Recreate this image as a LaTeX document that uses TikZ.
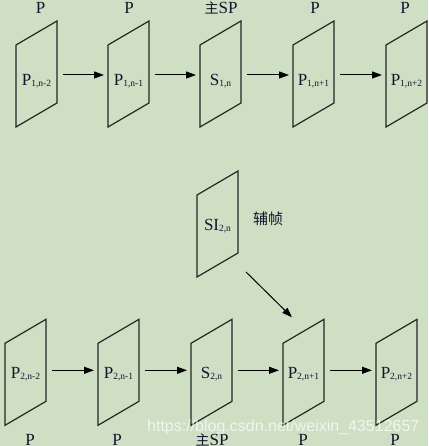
\documentclass[tikz,border=0pt]{standalone}
\usepackage{fontspec}
\setmainfont{Liberation Serif}
\newfontfamily\cjk{Noto Sans CJK SC}
\newfontfamily\wmfont{Liberation Sans}
\usetikzlibrary{arrows.meta}
\definecolor{bg}{RGB}{206,223,196}
\definecolor{ink}{RGB}{20,20,45}
\newcommand{\frlab}[2]{#1\raisebox{-1pt}{\fontsize{9.5}{9.5}\selectfont #2}}
\begin{document}
\begin{tikzpicture}[x=1pt,y=1pt,
  frame/.style={minimum width=41pt,minimum height=106pt,inner sep=0pt,outer sep=0pt},
  pg/.style={draw=black!85,line width=1.2pt,line join=miter},
  lbl/.style={font=\fontsize{17}{19}\selectfont,text=ink,inner sep=0pt,anchor=base},
  arr/.style={line width=1pt,-{Triangle[length=10pt,width=7pt]}}]
\fill[bg] (0,0) rectangle (428,446);
\clip (0,0) rectangle (428,446);
\useasboundingbox (0,0) rectangle (428,446);
% top row frames
\node[frame] (a1) at (36.5,372) {};
\node[frame] (a2) at (128.5,372) {};
\node[frame] (a3) at (220.5,372) {};
\node[frame] (a4) at (313.5,372) {};
\node[frame] (a5) at (406.5,372) {};
% SI frame
\node[frame] (si) at (217.5,222) {};
% bottom row frames
\node[frame] (b1) at (25.5,73.7) {};
\node[frame] (b2) at (118.5,73.7) {};
\node[frame] (b3) at (211.5,73.7) {};
\node[frame] (b4) at (303.5,73.7) {};
\node[frame] (b5) at (396.5,73.7) {};
\foreach \n in {a1,a2,a3,a4,a5,si,b1,b2,b3,b4,b5}
  \draw[pg] (\n.south west) -- ([yshift=82pt]\n.south west) -- (\n.north east) -- ([yshift=-82pt]\n.north east) -- cycle;
% frame texts
\node[lbl] (ta1) at ([yshift=-11.7pt]a1.center) {\frlab{P}{1,n-2}};
\node[lbl] (ta2) at ([yshift=-11.7pt]a2.center) {\frlab{P}{1,n-1}};
\node[lbl] (ta3) at ([yshift=-11.7pt]a3.center) {\frlab{S}{1,n}};
\node[lbl] (ta4) at ([yshift=-11.7pt]a4.center) {\frlab{P}{1,n+1}};
\node[lbl] (ta5) at ([yshift=-11.7pt]a5.center) {\frlab{P}{1,n+2}};
\node[lbl] (tsi) at ([yshift=-7pt]si.center) {\frlab{SI}{2,n}};
\node[lbl] (tb1) at ([yshift=-6pt]b1.center) {\frlab{P}{2,n-2}};
\node[lbl] (tb2) at ([yshift=-6pt]b2.center) {\frlab{P}{2,n-1}};
\node[lbl] (tb3) at ([yshift=-6pt]b3.center) {\frlab{S}{2,n}};
\node[lbl] (tb4) at ([yshift=-6pt]b4.center) {\frlab{P}{2,n+1}};
\node[lbl] (tb5) at ([yshift=-6pt]b5.center) {\frlab{P}{2,n+2}};
% arrows
\draw[arr] ([shift={(6pt,-1pt)}]a1.east) -- ([shift={(-4pt,-1pt)}]a2.west);
\draw[arr] ([shift={(6pt,-1pt)}]a2.east) -- ([shift={(-4pt,-1pt)}]a3.west);
\draw[arr] ([shift={(6pt,-1pt)}]a3.east) -- ([shift={(-4pt,-1pt)}]a4.west);
\draw[arr] ([shift={(6pt,-1pt)}]a4.east) -- ([shift={(-4pt,-1pt)}]a5.west);
\draw[arr] ([shift={(6pt,2pt)}]b1.east) -- ([shift={(-4pt,2pt)}]b2.west);
\draw[arr] ([shift={(6pt,2pt)}]b2.east) -- ([shift={(-4pt,2pt)}]b3.west);
\draw[arr] ([shift={(6pt,2pt)}]b3.east) -- ([shift={(-4pt,2pt)}]b4.west);
\draw[arr] ([shift={(6pt,2pt)}]b4.east) -- ([shift={(-4pt,2pt)}]b5.west);
\draw[arr] ([shift={(8pt,5pt)}]si.south east) -- ([shift={(9pt,2pt)}]b4.north west);
% labels
\node[lbl] (la1) at (40.5,432) {P};
\node[lbl] (la2) at (129,432) {P};
\node[lbl] (la3) at (221,432) {{\cjk\fontsize{14}{14}\selectfont 主}SP};
\node[lbl] (la4) at (315,432) {P};
\node[lbl] (la5) at (405,432) {P};
\node[lbl] (lb1) at (30,1) {P};
\node[lbl] (lb2) at (117,1) {P};
\node[lbl] (lb3) at (212,1) {{\cjk\fontsize{14}{14}\selectfont 主}SP};
\node[lbl] (lb4) at (303,1) {P};
\node[lbl] (lb5) at (395,1) {P};
\node[font=\cjk\fontsize{15}{15}\selectfont,text=ink,inner sep=0pt] (fz) at (268,227) {辅帧};
\node[anchor=base west,inner sep=0pt,font=\wmfont\fontsize{16}{16}\selectfont,text=white,text opacity=0.7] (wm) at (147,14) {https://blog.csdn.net/weixin\_43512657};
\end{tikzpicture}
\end{document}
